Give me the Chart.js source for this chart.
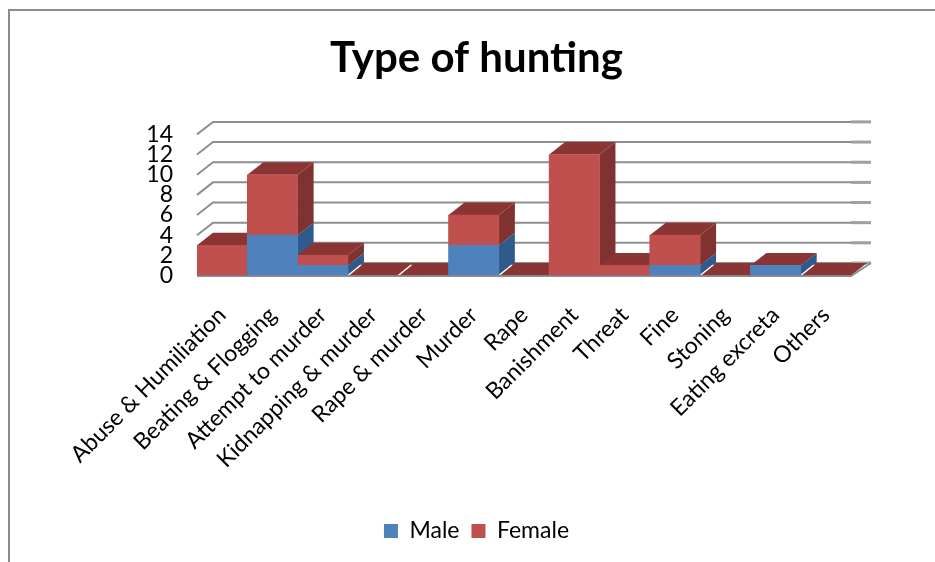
<!DOCTYPE html>
<html>
<head>
<meta charset="utf-8">
<title>Type of hunting</title>
<script src="https://cdn.jsdelivr.net/npm/chart.js@4"></script>
<style>
    body { margin: 0; background: #fff; overflow: hidden; }
    #box { position: absolute; left: 8px; top: 9px; width: 927px; height: 553px; border-left: 2px solid #8c8c8c; border-top: 2px solid #8c8c8c; box-sizing: border-box; }
    #wrap { position: absolute; left: 0; top: 0; width: 935px; height: 562px; }
</style>
</head>
<body>
<div id="box"></div>
<div id="wrap"><canvas id="chart" width="935" height="562"></canvas></div>
<script>
const categories = ["Abuse & Humiliation", "Beating & Flogging", "Attempt to murder", "Kidnapping & murder", "Rape & murder", "Murder", "Rape", "Banishment", "Threat", "Fine", "Stoning", "Eating excreta", "Others"];
const maleValues = [0, 4, 1, 0, 0, 3, 0, 0, 0, 1, 0, 1, 0];
const femaleValues = [3, 6, 1, 0, 0, 3, 0, 12, 1, 3, 0, 0, 0];
const yTicks = [0, 2, 4, 6, 8, 10, 12, 14];

// depth of the fake 3D box, in pixels
const depthX = 16;
const depthY = 12.5;
const gridColor = '#8f8f8f';

function poly(ctx, pts, color) {
    ctx.fillStyle = color;
    ctx.beginPath();
    pts.forEach((p, i) => i ? ctx.lineTo(p[0], p[1]) : ctx.moveTo(p[0], p[1]));
    ctx.closePath();
    ctx.fill();
}

// Draws walls, sides and tops before the library paints the bar fronts
const box3d = {
    id: 'box3d',
    beforeDatasetsDraw(chart) {
        const ctx = chart.ctx;
        const xs = chart.scales.x;
        const ys = chart.scales.y;
        const right = xs.right;
        const left = xs.left;
        ctx.save();

        // back wall grid lines, left wall lines and right stubs
        ctx.strokeStyle = gridColor;
        ctx.lineWidth = 2;
        yTicks.forEach(v => {
            const y = ys.getPixelForValue(v);
            ctx.beginPath();
            ctx.moveTo(left, y);
            ctx.lineTo(left + depthX, y - depthY);
            ctx.lineTo(right + depthX + 4, y - depthY);
            ctx.stroke();
        });
        ctx.lineWidth = 3;
        ctx.strokeStyle = '#a0a0a0';
        yTicks.forEach(v => {
            const y = ys.getPixelForValue(v) - depthY;
            ctx.beginPath();
            ctx.moveTo(right, y);
            ctx.lineTo(right + depthX + 4, y);
            ctx.stroke();
        });

        const male = chart.getDatasetMeta(0).data;
        const female = chart.getDatasetMeta(1).data;
        const sideColors = ['#2f5a8b', '#7f3230'];

        categories.forEach((c, i) => {
            const top = female[i];
            const x0 = top.x - top.width / 2;
            const x1 = top.x + top.width / 2;
            // right side faces, one per stacked part
            [male[i], female[i]].forEach((bar, d) => {
                if (bar.base - bar.y < 0.5) return;
                poly(ctx, [[x1, bar.y], [x1 + depthX, bar.y - depthY], [x1 + depthX, bar.base - depthY], [x1, bar.base]], sideColors[d]);
            });
            poly(ctx, [[x0, top.y], [x0 + depthX, top.y - depthY], [x1 + depthX, top.y - depthY], [x1, top.y]], '#8a3533');
        });

        // white seam where the next column is empty
        ctx.strokeStyle = '#fff';
        ctx.lineWidth = 1.5;
        categories.forEach((c, i) => {
            if (i === categories.length - 1) return;
            if (maleValues[i + 1] + femaleValues[i + 1] > 0) return;
            const bar = female[i];
            const x1 = bar.x + bar.width / 2;
            const y0 = ys.getPixelForValue(0);
            ctx.beginPath();
            ctx.moveTo(x1, y0);
            ctx.lineTo(x1 + depthX - 3, y0 - depthY + 2);
            ctx.stroke();
        });

        // floor edges
        const y0 = ys.getPixelForValue(0);
        ctx.strokeStyle = gridColor;
        ctx.lineWidth = 2;
        ctx.beginPath();
        ctx.moveTo(left, y0 + 0.5);
        ctx.lineTo(right, y0 + 0.5);
        ctx.lineTo(right + depthX + 4, y0 - depthY);
        ctx.stroke();
        ctx.restore();
    }
};

new Chart(document.getElementById('chart'), {
    type: 'bar',
    data: {
        labels: categories,
        datasets: [
            { label: 'Male', data: maleValues, backgroundColor: '#4f81bd' },
            { label: 'Female', data: femaleValues, backgroundColor: '#c0504d' }
        ]
    },
    options: {
        responsive: false,
        animation: false,
        layout: { padding: { left: 102, right: 84, top: 27, bottom: 9.5 } },
        datasets: { bar: { barPercentage: 1, categoryPercentage: 1, borderWidth: 0 } },
        plugins: {
            title: {
                display: true,
                text: 'Type of hunting',
                color: '#000',
                font: { family: 'Lato', size: 42, weight: 'bold' },
                padding: { top: 6, bottom: 51 }
            },
            legend: {
                position: 'bottom',
                labels: {
                    color: '#000',
                    boxWidth: 14,
                    boxHeight: 14,
                    padding: 12,
                    font: { family: 'Lato', size: 23 }
                }
            },
            tooltip: { enabled: false }
        },
        scales: {
            x: {
                stacked: true,
                grid: { display: false },
                border: { display: false },
                afterFit(scale) { scale.height = 232; },
                ticks: {
                    color: '#000',
                    autoSkip: false,
                    maxRotation: 45,
                    minRotation: 45,
                    padding: 18,
                    font: { family: 'Lato', size: 23 }
                }
            },
            y: {
                stacked: true,
                min: 0,
                max: 14,
                grid: { display: false },
                border: { display: false },
                afterFit(scale) { scale.width = 95; },
                ticks: {
                    color: '#000',
                    autoSkip: false,
                    stepSize: 2,
                    padding: 16,
                    font: { family: 'Lato', size: 23 }
                }
            }
        }
    },
    plugins: [box3d]
});
</script>
</body>
</html>
